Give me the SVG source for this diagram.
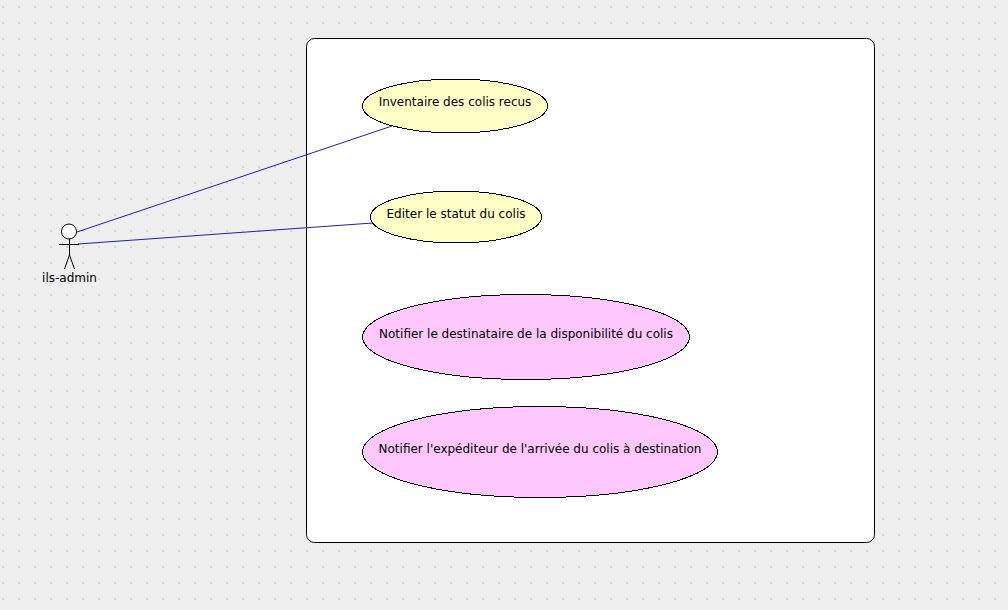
<svg xmlns="http://www.w3.org/2000/svg" width="1008" height="610" viewBox="0 0 1008 610">
<defs>
<pattern id="dots" x="0" y="0" width="16" height="16" patternUnits="userSpaceOnUse"><rect x="2" y="6" width="2" height="2" fill="#d8d8d8"/></pattern>
</defs>
<style>
text{font-family:"DejaVu Sans",sans-serif;font-size:12px;fill:#000}
.uc{stroke:#000;stroke-width:1;shape-rendering:crispEdges}
.y{fill:#ffffc8}
.p{fill:#fec8fe}
.c{stroke:#2020a8;stroke-width:1;fill:none}
.a{stroke:#000;stroke-width:1;fill:none}
</style>
<rect width="1008" height="610" fill="#eeeeee"/>
<rect width="1008" height="610" fill="url(#dots)"/>
<g id="system"><rect x="306.500" y="38.500" width="568" height="504" rx="8" ry="8" fill="#fff" stroke="#000"/></g>
<g id="connectors">
<line class="c" x1="77" y1="232" x2="392" y2="126"/>
<line class="c" x1="78" y1="244" x2="373" y2="223"/>
</g>
<g id="actor">
<circle cx="69" cy="231.500" r="7.500" fill="#fff" stroke="#000"/>
<path class="a" d="M69.500 239V255M59 244.500H79M69.500 255L64.500 269M69.500 255L74.500 269"/>
<text x="69.500" y="282" text-anchor="middle">ils-admin</text>
</g>
<g id="uc1"><ellipse class="uc y" cx="455" cy="106" rx="92.500" ry="27"/><text x="455" y="106" text-anchor="middle">Inventaire des colis recus</text></g>
<g id="uc2"><ellipse class="uc y" cx="456" cy="217" rx="85.500" ry="26"/><text x="456" y="218" text-anchor="middle">Editer le statut du colis</text></g>
<g id="uc3"><ellipse class="uc p" cx="526" cy="337" rx="163.500" ry="42.500"/><text x="526" y="338" text-anchor="middle">Notifier le destinataire de la disponibilité du colis</text></g>
<g id="uc4"><ellipse class="uc p" cx="540" cy="452" rx="177.500" ry="45.500"/><text x="540" y="453" text-anchor="middle">Notifier l'expéditeur de l'arrivée du colis à destination</text></g>
</svg>
